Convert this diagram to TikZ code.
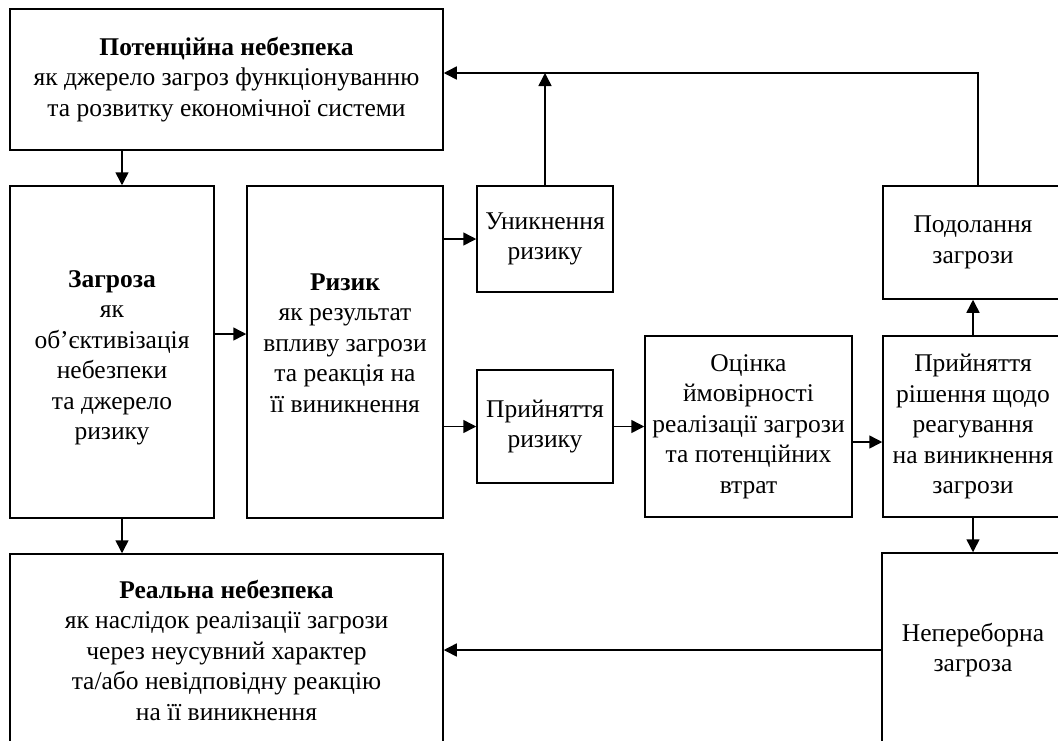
\documentclass[tikz,border=0pt]{standalone}
\usepackage{fontspec}
\setmainfont{Liberation Serif}
\usepackage{tikz}
\usetikzlibrary{arrows.meta,calc}
\tikzstyle{txt}=[align=center,inner sep=0pt,font=\fontsize{25.5}{30.5}\selectfont]
\tikzstyle{block}=[txt,draw,line width=1.5pt,rectangle]
\tikzstyle{link}=[draw,line width=1.5pt,-{Triangle[length=13pt,width=13pt]}]
\begin{document}
\begin{tikzpicture}[x=1pt,y=-1pt]

   \useasboundingbox (0,0) rectangle (1058,740);
   \clip (0,0) rectangle (1058,740);

   % left column
   \node[block,minimum width=433pt,minimum height=141pt] (P) at (226.5,79.5)
      {\textbf{Потенційна небезпека}\\як джерело загроз функціонуванню\\та розвитку економічної системи};
   \node[block,minimum width=204pt,minimum height=332pt] (Z) at (112,352) {};
   \node[txt] (Ztext) at (112,358)
      {\textbf{Загроза}\\як\\об’єктивізація\\небезпеки\\та джерело\\ризику};
   \node[block,minimum width=196pt,minimum height=332pt] (R) at (345,352) {};
   \node[txt] (Rtext) at (345,343)
      {\textbf{Ризик}\\як результат\\впливу загрози\\та реакція на\\її виникнення};
   \node[block,minimum width=433pt,minimum height=192pt] (RN) at (226.5,650)
      {\textbf{Реальна небезпека}\\як наслідок реалізації загрози\\через неусувний характер\\та/або невідповідну реакцію\\на її виникнення};

   % middle
   \node[block,minimum width=136pt,minimum height=106pt] (U) at (545,239)
      {Уникнення\\ризику};
   \node[block,minimum width=136pt,minimum height=113pt] (PR) at (545,426.5)
      {Прийняття\\ризику};
   \node[block,minimum width=207pt,minimum height=181pt] (O) at (748.5,426.5)
      {Оцінка\\ймовірності\\реалізації загрози\\та потенційних\\втрат};

   % right column
   \node[block,minimum width=180pt,minimum height=113pt] (PZ) at (973,242.5)
      {Подолання\\загрози};
   \node[block,minimum width=180pt,minimum height=181pt] (PRR) at (973,426.5)
      {Прийняття\\рішення щодо\\реагування\\на виникнення\\загрози};
   \node[block,minimum width=182pt,minimum height=194pt] (NZ) at (973,650)
      {Непереборна\\загроза};

   \coordinate (top) at ([yshift=6.5pt]P.east);

   % Connect blocks
   \draw[link] ([xshift=10pt]Z.north |- P.south) -- ([xshift=10pt]Z.north);
   \draw[link] ([xshift=10pt]Z.south) -- ([xshift=10pt]Z.south |- RN.north);
   \draw[link] ([yshift=18pt]Z.east) -- ([yshift=18pt]R.west);
   \draw[link] (R.east |- U.west) -- (U.west);
   \draw[link] (R.east |- PR.west) -- (PR.west);
   \draw[link] (PR.east) -- (O.west |- PR.east);
   \draw[link] ([yshift=-15.5pt]O.east) -- ([yshift=-15.5pt]PRR.west);
   \foreach \source/\dest in {PRR.north/PZ.south, PRR.south/NZ.north, NZ.west/RN.east}
      \draw[link] (\source) -- (\dest);
   \draw[link] (U.north) -- (U.north |- top);
   \draw[link] ([xshift=5pt]PZ.north) |- (top);

\end{tikzpicture}
\end{document}
